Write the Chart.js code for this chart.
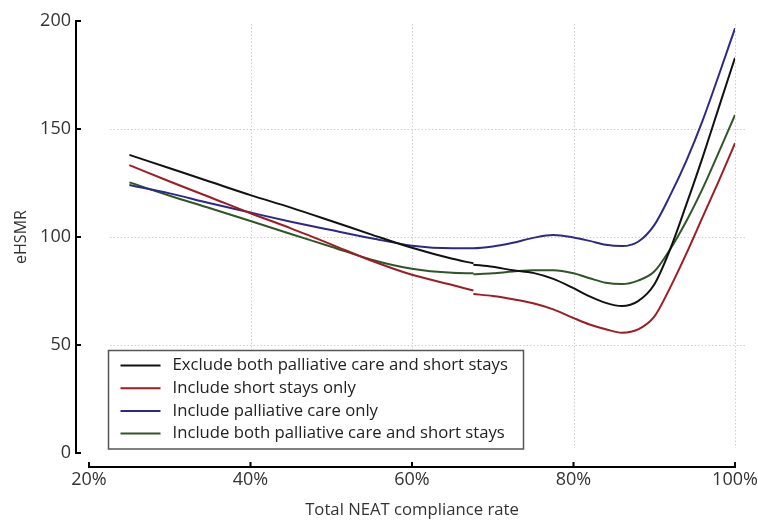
<!DOCTYPE html>
<html>
<head>
<meta charset="utf-8">
<script src="https://cdn.jsdelivr.net/npm/chart.js@4.4.1/dist/chart.umd.min.js"></script>
<style>
  html, body { margin: 0; padding: 0; background: #ffffff; }
  canvas { display: block; }
</style>
</head>
<body>
<canvas id="c" width="758" height="520"></canvas>
<script>
// Total NEAT compliance rate (%) at which each curve is sampled.
// 67.6 appears three times: the curves are fitted on two separate ranges and
// the middle entry is a gap between them.
const rate = [25, 30, 35, 40, 45, 50, 55, 60, 65, 67.6, 67.6, 67.6, 70, 72.5, 75, 77.5, 80, 82, 84, 86, 88, 90, 92, 94, 96, 98, 100];

const excludeBoth    = [138, 131.8, 125.6, 119.4, 113.6, 107.4, 101.1, 95, 89.9, 87.8, null, 87.2, 86.2, 84.6, 83.4, 80.6, 76.3, 72.5, 69.5, 68, 70.3, 78, 94.6, 115.3, 137, 160, 183];
const shortOnly      = [133.3, 125.7, 118.4, 111, 104, 96.6, 89, 82.5, 77.8, 75.2, null, 73.6, 72.7, 71.2, 69.3, 66.5, 62.5, 59.5, 57.3, 55.7, 57.2, 63.1, 76.8, 92.5, 109.3, 126, 143.4];
const palliativeOnly = [124.1, 120.2, 115.6, 111.3, 107.1, 103.2, 99.4, 96, 94.8, 94.8, 94.8, 94.8, 95.6, 97.3, 99.6, 100.9, 99.8, 98.2, 96.4, 95.8, 97.8, 105.5, 119.5, 135.5, 154, 175, 196.6];
const includeBoth    = [125.3, 119.1, 113.3, 107.4, 101.4, 95.5, 89.5, 85.3, 83.4, 83.2, null, 82.7, 83.2, 84, 84.6, 84.6, 83.2, 80.9, 78.8, 78.2, 79.8, 84, 94.5, 107.5, 122.5, 139.3, 156.5];

const seriesNames = [
  'Exclude both palliative care and short stays',
  'Include short stays only',
  'Include palliative care only',
  'Include both palliative care and short stays'
];
const seriesColors = ['#111111', '#9e1c24', '#2c2a86', '#2f5626'];

const xTicks = [20, 40, 60, 80, 100];
const xTickLabels = ['20%', '40%', '60%', '80%', '100%'];
const yTicks = [0, 50, 100, 150, 200];
const yTickLabels = ['0', '50', '100', '150', '200'];
const xGridValues = [40, 60, 80, 100];
const yGridValues = [50, 100, 150];

const FONT = "'Open Sans', 'DejaVu Sans', sans-serif";
const TEXT = '#333333';

function points(values) {
  return values.map((v, i) => ({ x: rate[i], y: v }));
}

const allSeries = [excludeBoth, shortOnly, palliativeOnly, includeBoth];

// Dotted grid, drawn a little inside / beyond the plotting box.
const gridPlugin = {
  id: 'dottedGrid',
  beforeDatasetsDraw(chart) {
    const { ctx, chartArea: a, scales: { x, y } } = chart;
    ctx.save();
    ctx.strokeStyle = '#cfcfcf';
    ctx.lineWidth = 1;
    ctx.setLineDash([1.5, 2]);
    xGridValues.forEach(v => {
      const px = Math.round(x.getPixelForValue(v)) + 0.5;
      ctx.beginPath();
      ctx.moveTo(px, a.top + 3);
      ctx.lineTo(px, a.bottom - 5);
      ctx.stroke();
    });
    yGridValues.forEach(v => {
      const py = Math.round(y.getPixelForValue(v)) + 0.5;
      ctx.beginPath();
      ctx.moveTo(a.left + 21, py);
      ctx.lineTo(a.right + 10, py);
      ctx.stroke();
    });
    ctx.restore();
  }
};

// Axis spines set off from the plotting box, with inward tick marks.
const spinePlugin = {
  id: 'offsetSpines',
  afterDatasetsDraw(chart) {
    const { ctx, chartArea: a, scales: { x, y } } = chart;
    ctx.save();
    ctx.strokeStyle = '#000000';
    ctx.lineWidth = 2;
    ctx.setLineDash([]);
    const ax = a.left - 13;
    ctx.beginPath();
    ctx.moveTo(ax, y.getPixelForValue(200) - 1);
    ctx.lineTo(ax, y.getPixelForValue(0) + 1);
    ctx.stroke();
    yTicks.forEach(v => {
      const py = y.getPixelForValue(v);
      ctx.beginPath();
      ctx.moveTo(ax, py);
      ctx.lineTo(ax + 5, py);
      ctx.stroke();
    });
    const ay = a.bottom + 14;
    ctx.beginPath();
    ctx.moveTo(x.getPixelForValue(20) - 1, ay);
    ctx.lineTo(x.getPixelForValue(100) + 1, ay);
    ctx.stroke();
    xTicks.forEach(v => {
      const px = x.getPixelForValue(v);
      ctx.beginPath();
      ctx.moveTo(px, ay);
      ctx.lineTo(px, ay - 5);
      ctx.stroke();
    });
    ctx.restore();
  }
};

// Boxed legend in the lower-left corner of the plot.
const boxLegendPlugin = {
  id: 'boxLegend',
  afterDatasetsDraw(chart) {
    const { ctx, chartArea: a } = chart;
    const left = a.left + 19.5, top = a.bottom - 102.5, w = 415, h = 98.5;
    ctx.save();
    ctx.fillStyle = '#ffffff';
    ctx.fillRect(left, top, w, h);
    ctx.strokeStyle = '#555555';
    ctx.lineWidth = 1.5;
    ctx.strokeRect(left, top, w, h);
    ctx.font = '16.7px ' + FONT;
    ctx.textBaseline = 'middle';
    ctx.textAlign = 'left';
    seriesNames.forEach((name, i) => {
      const ry = top + 15 + i * 22.7;
      ctx.strokeStyle = seriesColors[i];
      ctx.lineWidth = 2;
      ctx.beginPath();
      ctx.moveTo(left + 12, ry);
      ctx.lineTo(left + 52, ry);
      ctx.stroke();
      ctx.fillStyle = '#222222';
      ctx.fillText(name, left + 64, ry);
    });
    ctx.restore();
  }
};

new Chart(document.getElementById('c'), {
  type: 'line',
  data: {
    datasets: allSeries.map((vals, i) => ({
      label: seriesNames[i],
      data: points(vals),
      borderColor: seriesColors[i],
      backgroundColor: seriesColors[i],
      borderWidth: 2,
      pointRadius: 0,
      fill: false,
      spanGaps: false,
      cubicInterpolationMode: 'monotone'
    }))
  },
  options: {
    responsive: false,
    animation: false,
    devicePixelRatio: 1,
    layout: { padding: { top: 21, right: 23, left: 0, bottom: 0 } },
    plugins: { legend: { display: false }, tooltip: { enabled: false } },
    scales: {
      x: {
        type: 'linear',
        min: 20,
        max: 100,
        afterFit(s) { s.height = 67; s.paddingLeft = 0; s.paddingRight = 0; },
        afterBuildTicks(s) { s.ticks = xTicks.map(v => ({ value: v })); },
        border: { display: false },
        grid: { display: false, drawTicks: false },
        ticks: {
          padding: 16,
          maxRotation: 0,
          autoSkip: false,
          color: TEXT,
          font: { family: FONT, size: 18 },
          callback: (v) => xTickLabels[xTicks.indexOf(v)]
        },
        title: {
          display: true,
          text: 'Total NEAT compliance rate',
          color: TEXT,
          font: { family: FONT, size: 16.7 },
          padding: { top: 0, bottom: 0 }
        }
      },
      y: {
        min: 0,
        max: 200,
        afterFit(s) { s.width = 89; s.paddingTop = 0; s.paddingBottom = 0; },
        afterBuildTicks(s) { s.ticks = yTicks.map(v => ({ value: v })); },
        border: { display: false },
        grid: { display: false, drawTicks: false },
        ticks: {
          padding: 18,
          color: TEXT,
          font: { family: FONT, size: 18 },
          callback: (v) => yTickLabels[yTicks.indexOf(v)]
        },
        title: {
          display: true,
          text: 'eHSMR',
          color: TEXT,
          font: { family: FONT, size: 16 },
          padding: { top: 12, bottom: 0 }
        }
      }
    }
  },
  plugins: [gridPlugin, spinePlugin, boxLegendPlugin]
});
</script>
</body>
</html>
